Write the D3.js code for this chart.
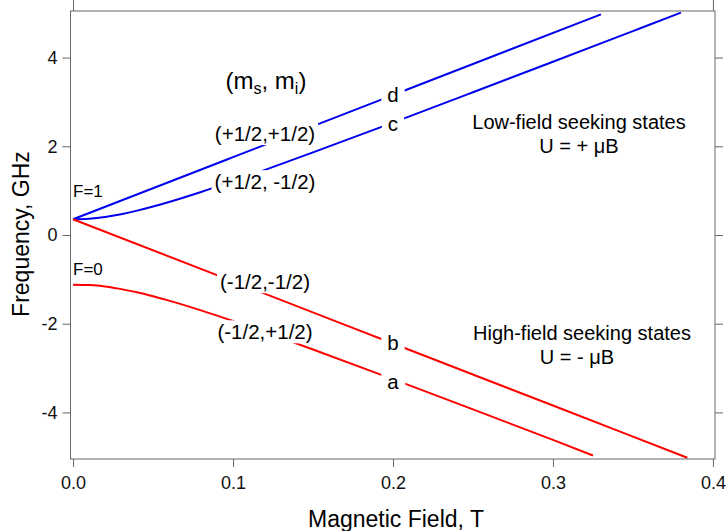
<!DOCTYPE html>
<html>
<head>
<meta charset="utf-8">
<script src="https://cdn.jsdelivr.net/npm/d3@7"></script>
<style>
  body { margin: 0; background: #fff; }
  svg { font-family: "Liberation Sans", Arial, sans-serif; }
  .tick text { font-size: 18px; fill: #111; }
  .tick line { stroke: #666; }
</style>
</head>
<body>
<svg id="chart"></svg>
<script>
// Breit-Rabi levels (field in T, frequency in GHz)
const fieldD = [0, 0.1, 0.2, 0.33]
const freqD = [0.355, 1.755, 3.155, 4.975]

const fieldC = [0, 0.01, 0.02, 0.03, 0.04, 0.05, 0.06, 0.08, 0.10, 0.12, 0.15, 0.20, 0.25, 0.30, 0.35, 0.38]
const freqC = [0.355, 0.369, 0.408, 0.470, 0.549, 0.642, 0.745, 0.971, 1.215, 1.469, 1.862, 2.534, 3.217, 3.905, 4.597, 5.012]

const fieldB = [0, 0.1, 0.2, 0.3, 0.384]
const freqB = [0.355, -1.045, -2.445, -3.845, -5.021]

const fieldA = [0, 0.01, 0.02, 0.03, 0.04, 0.05, 0.06, 0.08, 0.10, 0.12, 0.15, 0.20, 0.25, 0.30, 0.325]
const freqA = [-1.12, -1.13, -1.16, -1.22, -1.29, -1.38, -1.48, -1.70, -1.94, -2.19, -2.58, -3.25, -3.93, -4.62, -4.97]

const xTicks = [0, 0.1, 0.2, 0.3, 0.4]
const yTicks = [-4, -2, 0, 2, 4]

const width = 728
const height = 531

let svg = d3.select('#chart')
	.attr('width', width)
	.attr('height', height)

let x = d3.scaleLinear().domain([-0.0016, 0.4013]).range([70.5, 715])
let y = d3.scaleLinear().domain([-5.05, 5.05]).range([459, 11])

let line = d3.line()
	.x(d => x(d[0]))
	.y(d => y(d[1]))
	.curve(d3.curveMonotoneX)

let curves = [
	{ f: fieldD, v: freqD, color: '#0000ee' },
	{ f: fieldC, v: freqC, color: '#0000ee' },
	{ f: fieldB, v: freqB, color: '#ff0000' },
	{ f: fieldA, v: freqA, color: '#ff0000' }
]

svg.selectAll('.level')
	.data(curves)
	.enter().append('path')
	.attr('class', 'level')
	.attr('fill', 'none')
	.attr('stroke', d => d.color)
	.attr('stroke-width', 2)
	.attr('d', d => line(d.f.map((b, i) => [b, d.v[i]])))

// labels sit on white boxes that cut the lines
let labels = [
	{ t: 'd', b: 0.2, e: 3.16, pad: 6 },
	{ t: 'c', b: 0.2, e: 2.50, pad: 6 },
	{ t: 'b', b: 0.2, e: -2.43, pad: 6 },
	{ t: 'a', b: 0.2, e: -3.31, pad: 6 },
	{ t: '(+1/2,+1/2)', b: 0.12, e: 2.28, pad: 3 },
	{ t: '(+1/2, -1/2)', b: 0.12, e: 1.195, pad: 3 },
	{ t: '(-1/2,-1/2)', b: 0.12, e: -1.06, pad: 3 },
	{ t: '(-1/2,+1/2)', b: 0.12, e: -2.19, pad: 3 }
]

labels.forEach(l => {
	let g = svg.append('g')
	let txt = g.append('text')
		.attr('x', x(l.b))
		.attr('y', y(l.e))
		.attr('dy', '0.35em')
		.attr('text-anchor', 'middle')
		.attr('font-size', 20.5)
		.text(l.t)
	let bb = txt.node().getBBox()
	g.insert('rect', 'text')
		.attr('x', bb.x - l.pad)
		.attr('y', bb.y)
		.attr('width', bb.width + 2 * l.pad)
		.attr('height', bb.height)
		.attr('fill', '#fff')
})

let ms = svg.append('text')
	.attr('x', x(0.1206))
	.attr('y', y(3.47))
	.attr('dy', '0.35em')
	.attr('text-anchor', 'middle')
	.attr('font-size', 24)
ms.append('tspan').text('(m')
ms.append('tspan').attr('font-size', 16).attr('dy', 5).text('s')
ms.append('tspan').attr('dy', -5).text(', m')
ms.append('tspan').attr('font-size', 16).attr('dy', 5).text('i')
ms.append('tspan').attr('dy', -5).text(')')

let notes = [
	{ t: 'Low-field seeking states', px: 579, py: 122 },
	{ t: 'U = + \u03bcB', px: 579, py: 146 },
	{ t: 'High-field seeking states', px: 582, py: 333 },
	{ t: 'U = - \u03bcB', px: 577, py: 357 }
]
svg.selectAll('.note')
	.data(notes)
	.enter().append('text')
	.attr('class', 'note')
	.attr('x', d => d.px)
	.attr('y', d => d.py)
	.attr('dy', '0.35em')
	.attr('text-anchor', 'middle')
	.attr('font-size', 20)
	.text(d => d.t)

svg.append('text').attr('x', 73).attr('y', 197).attr('font-size', 17).text('F=1')
svg.append('text').attr('x', 73).attr('y', 275).attr('font-size', 17).text('F=0')

// frame and ticks
svg.append('rect')
	.attr('x', 70.5).attr('y', 11)
	.attr('width', 715 - 70.5).attr('height', 459 - 11)
	.attr('fill', 'none')
	.attr('stroke', '#666')

let hyphen = d3.format('.0f')
let axBottom = svg.append('g')
	.attr('transform', 'translate(0,459)')
	.call(d3.axisBottom(x).tickValues(xTicks).tickFormat(d3.format('.1f')).tickSize(8).tickPadding(9))
let axTop = svg.append('g')
	.attr('transform', 'translate(0,11)')
	.call(d3.axisTop(x).tickValues([xTicks[0], xTicks[xTicks.length - 1]]).tickFormat('').tickSize(11))
let axLeft = svg.append('g')
	.attr('transform', 'translate(70.5,0)')
	.call(d3.axisLeft(y).tickValues(yTicks).tickSize(8).tickPadding(5)
		.tickFormat(d => hyphen(d).replace('\u2212', '-')))
let axRight = svg.append('g')
	.attr('transform', 'translate(715,0)')
	.call(d3.axisRight(y).tickValues(yTicks).tickFormat('').tickSize(8))

;[axBottom, axTop, axLeft, axRight].forEach(a => a.select('.domain').remove())

svg.append('text')
	.attr('x', 396)
	.attr('y', 527)
	.attr('text-anchor', 'middle')
	.attr('font-size', 23)
	.text('Magnetic Field, T')

svg.append('text')
	.attr('transform', 'translate(29,234) rotate(-90)')
	.attr('text-anchor', 'middle')
	.attr('font-size', 23)
	.text('Frequency, GHz')
</script>
</body>
</html>
